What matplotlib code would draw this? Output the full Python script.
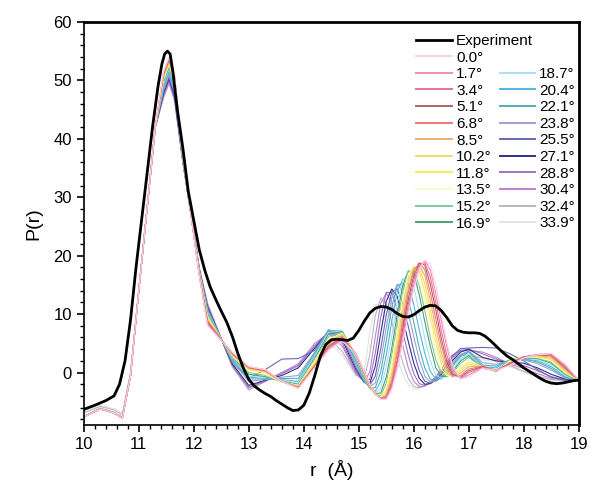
import matplotlib.pyplot as plt
from matplotlib.lines import Line2D
from matplotlib.ticker import MultipleLocator

plt.rcParams['font.family'] = ['Liberation Sans', 'DejaVu Sans']

# experiment curve
exp_r = [10.0, 10.2, 10.4, 10.55, 10.65, 10.75, 10.85, 10.95, 11.05, 11.15, 11.25, 11.35, 11.42, 11.47, 11.52,
         11.57, 11.62, 11.7, 11.8, 11.9, 12.0, 12.1, 12.2, 12.3, 12.4, 12.5, 12.6, 12.7, 12.8, 12.9, 13.0,
         13.1, 13.2, 13.3, 13.4, 13.5, 13.6, 13.7, 13.8, 13.9, 14.0, 14.1, 14.2, 14.3, 14.4, 14.5, 14.6,
         14.7, 14.8, 14.9, 15.0, 15.1, 15.2, 15.3, 15.4, 15.5, 15.6, 15.7, 15.8, 15.9, 16.0, 16.1, 16.2,
         16.3, 16.4, 16.5, 16.6, 16.7, 16.8, 16.9, 17.0, 17.1, 17.2, 17.3, 17.4, 17.5, 17.6, 17.7, 17.8,
         17.9, 18.0, 18.1, 18.2, 18.3, 18.4, 18.5, 18.6, 18.7, 18.8, 18.9, 19.0]
exp_p = [-6.3, -5.6, -4.8, -4.0, -2.0, 2.0, 9.0, 18.0, 26.0, 34.0, 42.0, 49.0, 52.8, 54.5, 55.0,
         54.5, 51.5, 45.0, 38.5, 31.0, 26.0, 21.0, 17.5, 14.6, 12.5, 10.5, 8.6, 6.2, 3.3, 0.8, -1.2,
         -2.3, -3.0, -3.6, -4.1, -4.8, -5.4, -6.0, -6.5, -6.4, -5.6, -3.5, -0.5, 2.8, 4.8, 5.6, 5.7,
         5.6, 5.5, 5.9, 7.2, 8.8, 10.2, 11.0, 11.3, 11.2, 10.8, 10.1, 9.6, 9.5, 9.9, 10.6, 11.2,
         11.5, 11.4, 10.6, 9.4, 8.0, 7.2, 6.9, 6.8, 6.8, 6.7, 6.2, 5.4, 4.5, 3.6, 2.8, 2.2,
         1.5, 0.8, 0.2, -0.4, -1.0, -1.5, -1.8, -1.9, -1.8, -1.6, -1.4, -1.3]

# simulated curves, all on the same r grid
r_sim = [10.0, 10.3, 10.55, 10.7, 10.85, 11.0, 11.15, 11.3, 11.45, 11.55, 11.65, 11.8, 11.95, 12.1, 12.25, 12.45,
         12.7, 13.0, 13.3, 13.6, 13.9, 14.2, 14.45, 14.7,
         14.95, 15.1, 15.2, 15.3, 15.4, 15.5, 15.6, 15.7, 15.8, 15.9, 16.0, 16.1, 16.2, 16.3, 16.4, 16.5,
         16.6, 16.7, 16.85, 17.0,
         17.25, 17.5, 17.75, 18.0, 18.25, 18.5, 18.75, 19.0]

p_0_0 = [-7.6, -6.2, -6.9, -7.8, -0.5, 14.0, 28.0, 42.0, 51.5, 54.0, 51.0, 37.0, 27.0, 16.5, 8.0, 6.0,
         3.5, 1.0, 0.5, -1.5, -2.7, 0.8, 3.8, 5.4,
         3.2, 0.1, -2.0, -3.6, -4.6, -4.6, -2.9, 0.5, 5.1, 9.9, 14.3, 17.6, 19.2, 18.6, 15.0, 10.1, 5.2, 1.3, -1.1, -0.8,
         0.7, 0.4, 1.2, 2.5, 3.0, 3.3, 1.5, -1.3]
p_1_7 = [-7.6, -6.2, -6.9, -7.8, -0.5, 14.0, 28.0, 42.0, 51.4, 53.9, 50.9, 37.0, 27.0, 16.6, 8.2, 6.0,
         3.4, 1.0, 0.5, -1.5, -2.7, 0.9, 4.0, 5.6,
         3.2, 0.1, -1.9, -3.6, -4.5, -4.5, -2.6, 0.8, 5.7, 10.8, 15.1, 18.1, 19.2, 17.6, 13.5, 8.8, 4.4, 0.7, -1.1, -0.4,
         0.8, 0.4, 1.3, 2.6, 3.1, 3.2, 1.3, -1.3]
p_3_4 = [-7.6, -6.2, -6.9, -7.8, -0.5, 14.0, 28.0, 42.0, 51.3, 53.8, 50.8, 37.0, 27.0, 16.6, 8.4, 6.1,
         3.4, 0.9, 0.4, -1.5, -2.6, 1.0, 4.2, 5.8,
         3.2, 0.1, -2.0, -3.6, -4.5, -4.3, -2.2, 1.8, 6.7, 11.7, 15.9, 18.4, 18.8, 16.4, 12.0, 7.2, 3.0, 0.1, -1.0, 0.0,
         0.9, 0.4, 1.4, 2.6, 3.1, 3.1, 1.1, -1.3]
p_5_1 = [-7.6, -6.2, -6.9, -7.8, -0.5, 14.0, 28.0, 42.0, 51.1, 53.6, 50.6, 36.9, 27.0, 16.7, 8.6, 6.2,
         3.3, 0.9, 0.4, -1.5, -2.6, 1.1, 4.4, 5.9,
         3.2, 0.0, -2.0, -3.6, -4.5, -4.3, -2.0, 2.1, 7.4, 12.6, 16.6, 18.7, 18.4, 15.1, 10.7, 5.8, 2.0, -0.3, -0.8, 0.3,
         1.0, 0.4, 1.5, 2.7, 3.0, 3.0, 0.9, -1.3]
p_6_8 = [-7.6, -6.2, -6.9, -7.8, -0.5, 14.0, 28.0, 42.0, 51.0, 53.5, 50.5, 36.9, 27.0, 16.8, 8.8, 6.2,
         3.2, 0.8, 0.3, -1.5, -2.5, 1.2, 4.6, 6.1,
         3.1, -0.1, -2.1, -3.7, -4.4, -4.0, -1.4, 3.2, 8.5, 13.7, 17.4, 18.8, 17.6, 13.7, 9.1, 4.7, 1.2, -0.6, -0.5, 0.6,
         1.1, 0.3, 1.6, 2.7, 3.0, 2.8, 0.7, -1.3]
p_8_5 = [-7.6, -6.2, -6.9, -7.8, -0.5, 14.0, 28.0, 42.0, 50.8, 53.3, 50.3, 36.9, 27.0, 16.9, 9.0, 6.3,
         3.1, 0.8, 0.2, -1.5, -2.5, 1.3, 4.8, 6.3,
         3.1, -0.2, -2.2, -3.7, -4.5, -3.9, -0.8, 4.0, 9.6, 14.4, 17.7, 18.4, 16.6, 12.3, 7.7, 3.5, 0.5, -0.7, -0.1, 1.0,
         1.1, 0.2, 1.7, 2.7, 2.9, 2.6, 0.5, -1.3]
p_10_2 = [-7.6, -6.2, -6.9, -7.8, -0.5, 14.0, 28.0, 42.0, 50.6, 53.1, 50.1, 36.8, 27.0, 16.9, 9.2, 6.3,
          3.0, 0.6, 0.1, -1.5, -2.4, 1.5, 5.1, 6.5,
          3.1, -0.3, -2.3, -3.7, -4.4, -3.5, -0.1, 5.0, 10.6, 15.4, 18.0, 18.0, 15.2, 10.8, 6.2, 2.4, 0.1, -0.6, 0.3, 1.4,
          1.0, 0.2, 1.8, 2.7, 2.8, 2.4, 0.3, -1.3]
p_11_8 = [-7.6, -6.2, -6.9, -7.8, -0.5, 14.0, 28.0, 42.0, 50.4, 52.9, 49.9, 36.8, 27.0, 17.0, 9.4, 6.4,
          2.9, 0.5, 0.0, -1.6, -2.3, 1.8, 5.5, 6.6,
          3.0, -0.3, -2.3, -3.8, -4.3, -3.1, 0.6, 6.1, 11.7, 16.1, 18.2, 17.4, 13.7, 9.4, 5.0, 1.5, -0.3, -0.6, 0.7, 1.8,
          1.0, 0.2, 1.9, 2.7, 2.7, 2.2, 0.1, -1.3]
p_13_5 = [-7.6, -6.2, -6.9, -7.8, -0.5, 14.0, 28.0, 42.0, 50.2, 52.7, 49.7, 36.7, 27.0, 17.1, 9.6, 6.4,
          2.8, 0.3, -0.3, -1.6, -2.2, 2.0, 5.8, 6.7,
          2.9, -0.4, -2.4, -3.8, -4.2, -2.6, 1.6, 7.2, 12.9, 16.8, 18.0, 16.3, 12.2, 7.8, 3.7, 0.6, -0.5, -0.4, 1.1, 2.2,
          0.9, 0.2, 2.0, 2.7, 2.6, 2.0, 0.0, -1.3]
p_15_2 = [-7.6, -6.2, -6.9, -7.8, -0.5, 14.0, 28.0, 42.0, 50.0, 52.5, 49.5, 36.7, 27.0, 17.1, 9.8, 6.5,
          2.7, 0.0, -0.5, -1.5, -2.1, 2.3, 6.2, 6.9,
          2.8, -0.6, -2.4, -3.7, -4.0, -1.8, 3.0, 8.6, 13.9, 17.3, 17.5, 14.8, 10.6, 6.0, 2.2, 0.0, -0.7, -0.2, 1.6, 2.6,
          0.8, 0.2, 2.1, 2.6, 2.5, 1.8, -0.2, -1.3]
p_16_9 = [-7.6, -6.2, -6.9, -7.8, -0.5, 14.0, 28.0, 42.0, 49.8, 52.3, 49.3, 36.7, 27.0, 17.2, 10.0, 6.5,
          2.6, -0.3, -0.7, -1.5, -2.0, 2.5, 6.6, 7.0,
          2.7, -0.8, -2.6, -3.6, -3.5, -0.8, 4.2, 10.0, 14.9, 17.4, 16.9, 13.3, 8.7, 4.5, 0.8, -0.6, -0.7, 0.1, 2.0, 2.9,
          0.7, 0.3, 2.1, 2.5, 2.4, 1.6, -0.3, -1.3]
p_18_7 = [-7.6, -6.2, -6.9, -7.8, -0.5, 14.0, 28.0, 42.0, 49.5, 52.0, 49.0, 36.6, 27.0, 17.3, 10.2, 6.6,
          2.5, -0.6, -0.8, -1.3, -1.8, 2.8, 6.9, 7.0,
          2.5, -1.0, -2.6, -3.5, -2.7, 1.0, 6.3, 11.9, 15.8, 16.6, 14.7, 10.4, 5.8, 2.0, -0.4, -1.0, -0.6, 0.4, 2.3, 3.2,
          0.8, 0.5, 2.2, 2.5, 2.2, 1.3, -0.5, -1.3]
p_20_4 = [-7.6, -6.2, -6.9, -7.8, -0.5, 14.0, 28.0, 42.0, 49.2, 51.7, 48.7, 36.5, 27.0, 17.3, 10.4, 6.6,
          2.3, -0.8, -1.0, -1.2, -1.5, 3.0, 7.2, 7.1,
          2.2, -1.2, -2.7, -3.2, -1.5, 3.0, 8.8, 13.8, 16.0, 15.3, 11.6, 7.3, 3.3, 0.2, -1.1, -1.1, -0.3, 1.0, 2.7, 3.5,
          1.0, 0.8, 2.2, 2.4, 2.0, 1.0, -0.6, -1.3]
p_22_1 = [-7.6, -6.2, -6.9, -7.8, -0.5, 14.0, 28.0, 42.0, 48.9, 51.4, 48.4, 36.5, 27.0, 17.4, 10.6, 6.7,
          2.1, -1.1, -1.1, -1.0, -1.0, 3.3, 7.3, 6.7,
          1.8, -1.4, -2.6, -2.6, 0.1, 5.5, 11.2, 14.9, 15.3, 12.7, 8.6, 4.2, 0.8, -1.1, -1.4, -0.9, 0.0, 1.3, 2.9, 3.6,
          1.3, 1.1, 2.2, 2.3, 1.8, 0.7, -0.8, -1.3]
p_23_8 = [-7.6, -6.2, -6.9, -7.8, -0.5, 14.0, 28.0, 42.0, 48.5, 51.0, 48.0, 36.4, 27.0, 17.5, 10.8, 6.7,
          1.9, -1.5, -1.2, -0.8, -0.5, 3.5, 7.3, 6.4,
          1.3, -1.5, -2.4, -1.8, 2.1, 7.7, 12.8, 15.1, 14.0, 10.3, 6.1, 2.2, -0.6, -1.6, -1.5, -0.8, 0.3, 1.6, 3.1, 3.7,
          1.7, 1.4, 2.1, 2.2, 1.5, 0.4, -0.9, -1.3]
p_25_5 = [-7.6, -6.2, -6.9, -7.8, -0.5, 14.0, 28.0, 42.0, 48.1, 50.6, 47.6, 36.3, 27.0, 17.6, 11.0, 6.8,
          1.7, -1.0, 0.5, 2.3, 2.4, 3.8, 7.2, 6.0,
          0.9, -1.6, -2.2, -0.6, 4.1, 9.9, 13.8, 14.3, 11.8, 7.9, 3.6, 0.3, -1.5, -1.8, -1.3, -0.2, 1.4, 2.8, 4.1, 4.2,
          4.3, 4.2, 3.2, 2.0, 0.5, -0.8, -1.3, -1.3]
p_27_1 = [-7.6, -6.2, -6.9, -7.8, -0.5, 14.0, 28.0, 42.0, 47.8, 50.3, 47.3, 36.3, 27.0, 17.6, 11.2, 6.8,
          1.5, -2.2, -1.3, -0.5, 0.8, 4.2, 7.1, 5.6,
          0.5, -1.7, -1.9, 1.1, 6.8, 12.2, 14.3, 13.0, 9.2, 5.3, 1.6, -1.0, -2.0, -1.9, -1.3, -0.4, 0.8, 2.0, 3.5, 4.0,
          2.6, 2.0, 1.8, 1.6, 0.8, -0.3, -1.1, -1.3]
p_28_8 = [-7.6, -6.2, -6.9, -7.8, -0.5, 14.0, 28.0, 42.0, 47.5, 50.0, 47.0, 36.2, 27.0, 17.7, 11.4, 6.9,
          1.3, -2.5, -1.4, -0.2, 1.2, 4.6, 6.9, 5.0,
          0.1, -1.6, -1.2, 3.3, 9.5, 13.7, 13.7, 10.8, 7.0, 3.0, -0.2, -1.9, -2.2, -1.8, -1.0, 0.1, 1.3, 2.5, 3.8, 4.0,
          3.2, 2.3, 1.6, 1.2, 0.3, -0.7, -1.2, -1.3]
p_30_4 = [-7.5, -6.1, -6.8, -7.6, -0.5, 14.0, 28.0, 42.0, 47.2, 49.7, 46.7, 36.1, 27.0, 17.8, 11.6, 6.9,
          1.2, -2.7, -1.5, 0.0, 1.5, 5.0, 6.7, 4.5,
          -0.2, -1.6, 0.1, 6.1, 11.9, 13.6, 12.0, 8.3, 4.6, 0.8, -1.5, -2.4, -2.3, -1.7, -0.7, 0.6, 1.9, 3.0, 3.7, 3.8,
          3.5, 2.6, 1.4, 0.7, -0.2, -1.0, -1.3, -1.3]
p_32_4 = [-6.9, -5.8, -6.4, -7.2, 0.0, 14.0, 28.0, 42.0, 47.0, 49.5, 46.5, 36.1, 27.2, 17.9, 11.8, 7.0,
          1.0, -3.0, -1.5, 0.0, 1.2, 4.5, 6.0, 3.6,
          -0.4, -1.1, 3.1, 9.7, 12.8, 11.7, 8.6, 5.1, 1.7, -1.0, -2.4, -2.6, -2.3, -1.6, -0.7, 0.3, 1.3, 2.2, 2.9, 3.0,
          2.5, 2.0, 1.2, 0.2, -0.6, -1.2, -1.4, -1.3]
p_33_9 = [-6.6, -5.6, -6.2, -7.0, 0.0, 14.0, 28.0, 42.0, 47.0, 49.5, 46.5, 36.1, 27.2, 18.0, 12.0, 7.0,
          0.9, -3.0, -1.5, 0.0, 1.0, 4.2, 5.5, 2.9,
          -0.6, 0.3, 6.8, 11.7, 11.3, 8.9, 5.7, 2.4, -0.3, -2.1, -2.8, -2.7, -2.3, -1.6, -0.7, 0.2, 1.2, 1.8, 2.4, 2.5,
          2.2, 1.8, 1.0, 0.0, -0.8, -1.4, -1.5, -1.3]

angles = ['0.0°', '1.7°', '3.4°', '5.1°', '6.8°', '8.5°', '10.2°', '11.8°', '13.5°', '15.2°', '16.9°',
          '18.7°', '20.4°', '22.1°', '23.8°', '25.5°', '27.1°', '28.8°', '30.4°', '32.4°', '33.9°']
sims = [p_0_0, p_1_7, p_3_4, p_5_1, p_6_8, p_8_5, p_10_2, p_11_8, p_13_5, p_15_2, p_16_9,
        p_18_7, p_20_4, p_22_1, p_23_8, p_25_5, p_27_1, p_28_8, p_30_4, p_32_4, p_33_9]
colors = ['#f9d3e0', '#f38bb5', '#ec6fa3', '#b8605a', '#f07878', '#f0b070', '#f8d860', '#f6ee5a',
          '#fbf8c8', '#80c8a0', '#50a070', '#a8e0f8', '#50b8e0', '#50b0b0', '#a0a0d8', '#6868b8',
          '#303088', '#a070c0', '#c080d0', '#b8b8b8', '#e4e4e4']

fig = plt.figure(figsize=(5.9, 4.87), dpi=100)
ax = fig.add_axes([0.142, 0.127, 0.839, 0.828])

for i in range(len(sims) - 1, -1, -1):
    ax.plot(r_sim, sims[i], color=colors[i], lw=0.8)
ax.plot(exp_r, exp_p, color='black', lw=2.0)

# legend: first column with Experiment and 0.0-16.9, second column 18.7-33.9
h1 = [Line2D([], [], color='black', lw=2.0)] + [Line2D([], [], color=colors[i], lw=1.4) for i in range(11)]
l1 = ['Experiment'] + angles[:11]
h2 = [Line2D([], [], color=colors[i], lw=1.4) for i in range(11, 21)]
l2 = angles[11:]
kw = dict(frameon=False, fontsize=11, handlelength=2.3, handletextpad=0.3, labelspacing=0.17,
          borderpad=0.0, borderaxespad=0.0, loc='upper left')
leg1 = ax.legend(h1, l1, bbox_to_anchor=(0.672, 0.97), **kw)
ax.add_artist(leg1)
ax.legend(h2, l2, bbox_to_anchor=(0.84, 0.888), **kw)

ax.set_xlim(10, 19)
ax.set_ylim(-9, 60)
ax.xaxis.set_major_locator(MultipleLocator(1))
ax.xaxis.set_minor_locator(MultipleLocator(0.2))
ax.yaxis.set_major_locator(MultipleLocator(10))
ax.yaxis.set_minor_locator(MultipleLocator(2))
ax.tick_params(which='both', direction='out', top=False, right=False, labelsize=12)
ax.tick_params(which='major', length=5, width=1.2)
ax.tick_params(which='minor', length=3, width=1.0)
for s in ['left', 'bottom']:
    ax.spines[s].set_linewidth(1.2)
for s in ['top', 'right']:
    ax.spines[s].set_linewidth(2.0)

ax.set_xlabel('r  (Å)', fontsize=14, labelpad=6)
ax.set_ylabel('P(r)', fontsize=14, labelpad=8)

fig.savefig('out.png', dpi=100)
